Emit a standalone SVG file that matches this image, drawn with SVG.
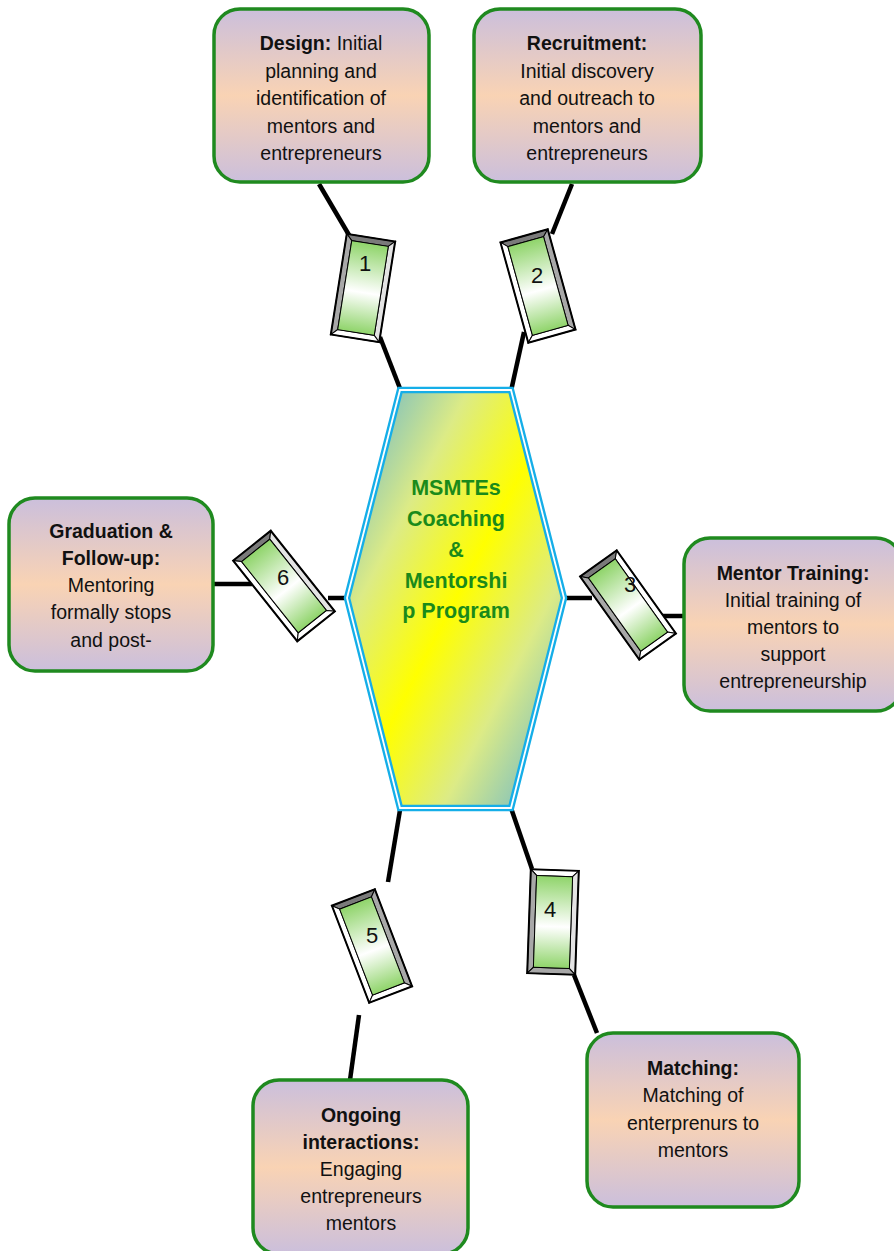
<svg xmlns="http://www.w3.org/2000/svg" width="894" height="1251" viewBox="0 0 894 1251">
<defs>
  <linearGradient id="boxFill" x1="0" y1="0" x2="0" y2="1">
    <stop offset="0" stop-color="#cbbfdc"/>
    <stop offset="0.5" stop-color="#f9d3b4"/>
    <stop offset="1" stop-color="#cbbfdc"/>
  </linearGradient>
  <linearGradient id="hexFill" x1="0" y1="0" x2="1" y2="1">
    <stop offset="0" stop-color="#58aed6"/>
    <stop offset="0.28" stop-color="#dceb86"/>
    <stop offset="0.5" stop-color="#ffff00"/>
    <stop offset="0.72" stop-color="#dceb86"/>
    <stop offset="1" stop-color="#58aed6"/>
  </linearGradient>
  <linearGradient id="tabFill" x1="0" y1="0" x2="0" y2="1">
    <stop offset="0" stop-color="#8fd46a"/>
    <stop offset="0.55" stop-color="#ffffff"/>
    <stop offset="1" stop-color="#8fd46a"/>
  </linearGradient>
  <style>
    .box { fill: url(#boxFill); stroke: #1f8a1f; stroke-width: 3.5; }
    .txt { font-family: "Liberation Sans", Arial, sans-serif; font-size: 19.5px; fill: #111; text-anchor: middle; }
    .b { font-weight: bold; }
    .ctr { font-family: "Liberation Sans", Arial, sans-serif; font-size: 21.5px; font-weight: bold; fill: #1a8a1a; text-anchor: middle; }
    .num { font-family: "Liberation Sans", Arial, sans-serif; font-size: 22px; fill: #111; text-anchor: middle; }
    .conn line { stroke: #000; stroke-width: 4.5; }
    .f { stroke: #000; stroke-width: 1; }
    .dk { fill: #7a7a7a; }
    .md { fill: #a8a8a8; }
    .lt { fill: #e4e4e4; }
    .wh { fill: #ffffff; }
    .inner { fill: url(#tabFill); stroke: #000; stroke-width: 1; }
    .outer { fill: none; stroke: #000; stroke-width: 2; }
  </style>
</defs>

<g id="connectors" class="conn">
  <line x1="319" y1="184" x2="349" y2="235"/>
  <line x1="380" y1="337" x2="401" y2="391"/>
  <line x1="572" y1="184" x2="552" y2="234"/>
  <line x1="524" y1="332" x2="511" y2="391"/>
  <line x1="563" y1="598" x2="592" y2="598"/>
  <line x1="660" y1="616" x2="685" y2="616"/>
  <line x1="213" y1="584" x2="252" y2="584"/>
  <line x1="328" y1="598" x2="349" y2="598"/>
  <line x1="511" y1="808" x2="532" y2="869"/>
  <line x1="574" y1="975" x2="597" y2="1033"/>
  <line x1="400" y1="810" x2="388" y2="882"/>
  <line x1="359" y1="1015" x2="350" y2="1080"/>
</g>

<g id="center">
  <polygon points="400,390 511,390 564,598 511,808 400,808 347,598" fill="url(#hexFill)" stroke="#15aee8" stroke-width="6.5"/>
  <polygon points="400,390 511,390 564,598 511,808 400,808 347,598" fill="none" stroke="#ffffff" stroke-width="1.8"/>
  <text class="ctr" x="456" y="495">MSMTEs</text>
  <text class="ctr" x="456" y="526">Coaching</text>
  <text class="ctr" x="456" y="557">&amp;</text>
  <text class="ctr" x="456" y="588">Mentorshi</text>
  <text class="ctr" x="456" y="618">p Program</text>
</g>

<g id="tab1">
  <g transform="translate(363,288) rotate(9)">
    <polygon class="f dk" points="-24.5,-51 24.5,-51 18.5,-45 -18.5,-45"/>
    <polygon class="f md" points="-24.5,-51 -18.5,-45 -18.5,45 -24.5,51"/>
    <polygon class="f lt" points="24.5,-51 18.5,-45 18.5,45 24.5,51"/>
    <polygon class="f wh" points="-24.5,51 24.5,51 18.5,45 -18.5,45"/>
    <rect class="inner" x="-18.5" y="-45" width="37" height="90"/>
    <rect class="outer" x="-24.5" y="-51" width="49" height="102"/>
  </g>
  <text class="num" x="365" y="271">1</text>
</g>

<g id="tab2">
  <g transform="translate(538,286) rotate(-15.5)">
    <polygon class="f dk" points="-24.5,-52 24.5,-52 18.5,-46 -18.5,-46"/>
    <polygon class="f wh" points="-24.5,-52 -18.5,-46 -18.5,46 -24.5,52"/>
    <polygon class="f md" points="24.5,-52 18.5,-46 18.5,46 24.5,52"/>
    <polygon class="f wh" points="-24.5,52 24.5,52 18.5,46 -18.5,46"/>
    <rect class="inner" x="-18.5" y="-46" width="37" height="92"/>
    <rect class="outer" x="-24.5" y="-52" width="49" height="104"/>
  </g>
  <text class="num" x="537" y="283">2</text>
</g>

<g id="tab3">
  <g transform="translate(628,605) rotate(-35.5)">
    <polygon class="f dk" points="-22.5,-51 22.5,-51 16.5,-45 -16.5,-45"/>
    <polygon class="f md" points="-22.5,-51 -16.5,-45 -16.5,45 -22.5,51"/>
    <polygon class="f wh" points="22.5,-51 16.5,-45 16.5,45 22.5,51"/>
    <polygon class="f wh" points="-22.5,51 22.5,51 16.5,45 -16.5,45"/>
    <rect class="inner" x="-16.5" y="-45" width="33" height="90"/>
    <rect class="outer" x="-22.5" y="-51" width="45" height="102"/>
  </g>
  <text class="num" x="630" y="592">3</text>
</g>

<g id="tab4">
  <g transform="translate(553,922) rotate(2)">
    <polygon class="f wh" points="-24,-52 24,-52 18,-46 -18,-46"/>
    <polygon class="f md" points="-24,-52 -18,-46 -18,46 -24,52"/>
    <polygon class="f lt" points="24,-52 18,-46 18,46 24,52"/>
    <polygon class="f md" points="-24,52 24,52 18,46 -18,46"/>
    <rect class="inner" x="-18" y="-46" width="36" height="92"/>
    <rect class="outer" x="-24" y="-52" width="48" height="104"/>
  </g>
  <text class="num" x="550" y="917">4</text>
</g>

<g id="tab5">
  <g transform="translate(372,946) rotate(-21)">
    <polygon class="f dk" points="-23,-52 23,-52 17,-46 -17,-46"/>
    <polygon class="f wh" points="-23,-52 -17,-46 -17,46 -23,52"/>
    <polygon class="f md" points="23,-52 17,-46 17,46 23,52"/>
    <polygon class="f wh" points="-23,52 23,52 17,46 -17,46"/>
    <rect class="inner" x="-17" y="-46" width="34" height="92"/>
    <rect class="outer" x="-23" y="-52" width="46" height="104"/>
  </g>
  <text class="num" x="372" y="943">5</text>
</g>

<g id="tab6">
  <g transform="translate(284,586) rotate(-38.5)">
    <polygon class="f dk" points="-24,-51.5 24,-51.5 18,-45.5 -18,-45.5"/>
    <polygon class="f wh" points="-24,-51.5 -18,-45.5 -18,45.5 -24,51.5"/>
    <polygon class="f lt" points="24,-51.5 18,-45.5 18,45.5 24,51.5"/>
    <polygon class="f wh" points="-24,51.5 24,51.5 18,45.5 -18,45.5"/>
    <rect class="inner" x="-18" y="-45.5" width="36" height="91"/>
    <rect class="outer" x="-24" y="-51.5" width="48" height="103"/>
  </g>
  <text class="num" x="283" y="585">6</text>
</g>

<g id="node-design">
  <rect class="box" x="214" y="9" width="215" height="173" rx="26"/>
  <text class="txt" x="321" y="50"><tspan class="b">Design:</tspan> Initial</text>
  <text class="txt" x="321" y="77.5">planning and</text>
  <text class="txt" x="321" y="105">identification of</text>
  <text class="txt" x="321" y="132.5">mentors and</text>
  <text class="txt" x="321" y="160">entrepreneurs</text>
</g>

<g id="node-recruitment">
  <rect class="box" x="474" y="9" width="227" height="173" rx="26"/>
  <text class="txt b" x="587" y="50">Recruitment:</text>
  <text class="txt" x="587" y="77.5">Initial discovery</text>
  <text class="txt" x="587" y="105">and outreach to</text>
  <text class="txt" x="587" y="132.5">mentors and</text>
  <text class="txt" x="587" y="160">entrepreneurs</text>
</g>

<g id="node-training">
  <rect class="box" x="684" y="538" width="218" height="173" rx="26"/>
  <text class="txt b" x="793" y="580">Mentor Training:</text>
  <text class="txt" x="793" y="607">Initial training of</text>
  <text class="txt" x="793" y="634">mentors to</text>
  <text class="txt" x="793" y="661">support</text>
  <text class="txt" x="793" y="688">entrepreneurship</text>
</g>

<g id="node-matching">
  <rect class="box" x="587" y="1033" width="212" height="174" rx="26"/>
  <text class="txt b" x="693" y="1075">Matching:</text>
  <text class="txt" x="693" y="1102">Matching of</text>
  <text class="txt" x="693" y="1130">enterprenurs to</text>
  <text class="txt" x="693" y="1157">mentors</text>
</g>

<g id="node-ongoing">
  <rect class="box" x="253" y="1080" width="215" height="174" rx="26"/>
  <text class="txt b" x="361" y="1122">Ongoing</text>
  <text class="txt b" x="361" y="1149">interactions:</text>
  <text class="txt" x="361" y="1176">Engaging</text>
  <text class="txt" x="361" y="1203">entrepreneurs</text>
  <text class="txt" x="361" y="1230">mentors</text>
</g>

<g id="node-graduation">
  <rect class="box" x="9" y="498" width="204" height="173" rx="26"/>
  <text class="txt b" x="111" y="538">Graduation &amp;</text>
  <text class="txt b" x="111" y="565">Follow-up:</text>
  <text class="txt" x="111" y="592">Mentoring</text>
  <text class="txt" x="111" y="619">formally stops</text>
  <text class="txt" x="111" y="647">and post-</text>
</g>
</svg>
